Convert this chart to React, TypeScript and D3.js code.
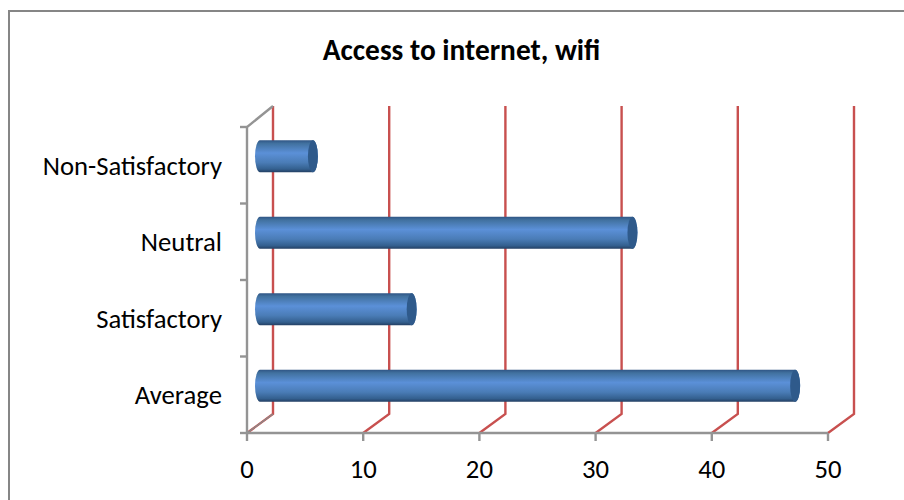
import React from "react";
import * as d3 from "d3";

const title = "Access to internet, wifi";
const categories = ["Average", "Satisfactory", "Neutral", "Non-Satisfactory"];
const values = [47, 14, 33, 5.5];
const ticks = [0, 10, 20, 30, 40, 50];

const W = 904, H = 500;
const x0 = 247, x1 = 828, yBottom = 433, yTop = 127;
const dx = 26, dyB = 19, dyT = 21;
const barH = 32;

export default function App() {
  const x = d3.scaleLinear().domain([0, 50]).range([x0, x1]);
  const y = d3.scaleBand<string>().domain(categories).range([yBottom, yTop]);
  const yTicks = d3.range(0, categories.length + 1).map((i) => yBottom - (i * (yBottom - yTop)) / categories.length);
  const fs = { fontFamily: "Carlito, 'Open Sans', sans-serif" };
  return (
    <svg width={W} height={H} style={{ position: "absolute", left: 0, top: 0, background: "#fff" }}>
      <defs>
        <linearGradient id="body" x1="0" y1="0" x2="0" y2="1">
          <stop offset="0" stopColor="#2f5585" />
          <stop offset="0.1" stopColor="#41719f" />
          <stop offset="0.4" stopColor="#5b90d8" />
          <stop offset="0.7" stopColor="#4a7cb6" />
          <stop offset="0.9" stopColor="#34608f" />
          <stop offset="1" stopColor="#233f63" />
        </linearGradient>
      </defs>
      <rect x={9} y={11} width={W} height={H} fill="#fff" stroke="#868686" strokeWidth={2} />
      {ticks.map((t) => (
        <path key={t} d={`M${x(t)},${yBottom}L${x(t) + dx},${yBottom - dyB}V${yTop - dyT}`} fill="none" stroke="#c8504f" strokeWidth={2.4} />
      ))}
      <path d={`M${x0},${yBottom}L${x0 + dx},${yBottom - dyB}`} stroke="#8a8a8a" strokeWidth={1.5} />
      <path d={`M${x0},${yBottom}V${yTop}L${x0 + dx},${yTop - dyT}`} fill="none" stroke="#949494" strokeWidth={2.4} />
      <path d={`M${x0},${yBottom}H${x1}`} stroke="#949494" strokeWidth={2.4} />
      {yTicks.map((t) => (
        <path key={t} d={`M${x0 - 7},${t}H${x0}`} stroke="#949494" strokeWidth={2.4} />
      ))}
      {ticks.map((t) => (
        <path key={t} d={`M${x(t)},${yBottom}V${yBottom + 8}`} stroke="#949494" strokeWidth={2.4} />
      ))}
      {categories.map((c, i) => {
        const cy = y(c)! + y.bandwidth() / 2 - 9;
        const left = x0 + 13;
        const right = x(values[i]) + 2;
        const rx = 5, ry = barH / 2;
        return (
          <g key={c}>
            <path
              d={`M${left},${cy - ry}H${right}A${rx},${ry} 0 0 1 ${right},${cy + ry}H${left}A${rx},${ry} 0 0 1 ${left},${cy - ry}Z`}
              fill="url(#body)"
            />
            <ellipse cx={right} cy={cy} rx={rx} ry={ry} fill="#2f5a8b" />
          </g>
        );
      })}
      <text x={461.5} y={60} textAnchor="middle" fontSize={29.4} fontWeight={700} fill="#000" style={fs}>
        {title}
      </text>
      {categories.map((c) => (
        <text key={c} x={222} y={y(c)! + y.bandwidth() / 2 + 9.5} textAnchor="end" fontSize={26.7} fill="#000" style={fs}>
          {c}
        </text>
      ))}
      {ticks.map((t) => (
        <text key={t} x={x(t)} y={478} textAnchor="middle" fontSize={26.7} fill="#000" style={fs}>
          {t}
        </text>
      ))}
    </svg>
  );
}
